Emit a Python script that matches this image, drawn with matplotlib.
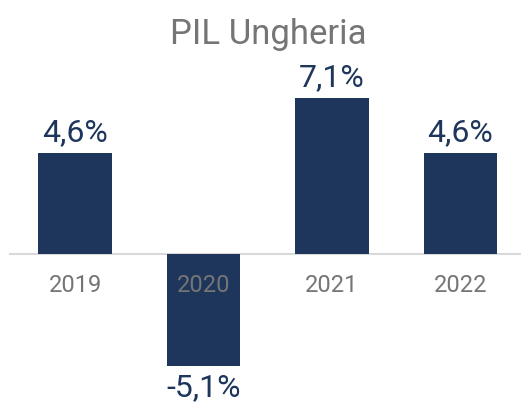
import matplotlib.pyplot as plt

plt.rcParams['font.family'] = ['Roboto', 'DejaVu Sans']

years = ['2019', '2020', '2021', '2022']
pil = [4.6, -5.1, 7.1, 4.6]
labels = ['4,6%', '-5,1%', '7,1%', '4,6%']

fig = plt.figure(figsize=(5.21, 4.03), dpi=100)
ax = fig.add_axes([0, 0, 1, 1])
ax.axis('off')

x = list(range(len(years)))
bars = ax.bar(x, pil, width=0.575, color='#1e365c', zorder=2)

# linea dello zero
ax.axhline(0, xmin=0.02, xmax=1, color='#d9d9d9', linewidth=1.5, zorder=1)

ax.set_xlim(-0.584, 3.471)
ax.set_ylim(-6.785, 11.57)

for xi, v, lab in zip(x, pil, labels):
    if v >= 0:
        ax.text(xi, v + 0.55, lab, ha='center', va='baseline', fontsize=23, color='#1e365c')
    else:
        ax.text(xi, v - 1.38, lab, ha='center', va='baseline', fontsize=23, color='#1e365c')

for xi, y in zip(x, years):
    ax.text(xi, -1.73, y, ha='center', va='baseline', fontsize=17, color='#757575', zorder=3)

ax.text(1.5, 9.56, 'PIL Ungheria', ha='center', va='baseline', fontsize=25, color='#757575')

fig.savefig('out.png', dpi=100)
